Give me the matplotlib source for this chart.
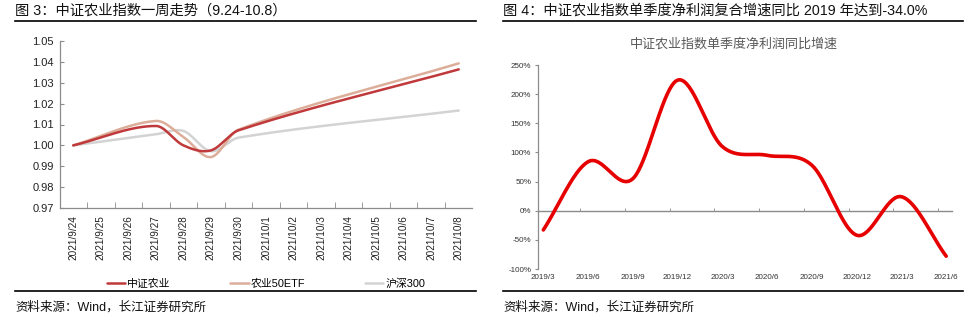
import numpy as np
import matplotlib
matplotlib.use("Agg")
import matplotlib.pyplot as plt
from matplotlib.lines import Line2D
from matplotlib.ticker import FixedLocator, FuncFormatter

plt.rcParams['font.family'] = ['Liberation Sans', 'Noto Sans CJK SC', 'DejaVu Sans']

# ---- data: 图3 one-week trend (calendar-day axis, trading days only) ----
day_labels = ['2021/9/24', '2021/9/25', '2021/9/26', '2021/9/27', '2021/9/28',
              '2021/9/29', '2021/9/30', '2021/10/1', '2021/10/2', '2021/10/3',
              '2021/10/4', '2021/10/5', '2021/10/6', '2021/10/7', '2021/10/8']
trade_days = ['2021/9/24', '2021/9/27', '2021/9/28', '2021/9/29', '2021/9/30', '2021/10/8']
csi_agri = [1.0000, 1.0093, 1.0000, 0.9976, 1.0072, 1.0364]
agri_etf = [1.0000, 1.0117, 1.0040, 0.9944, 1.0075, 1.0393]
hs300 = [1.0000, 1.0053, 1.0069, 0.9972, 1.0037, 1.0167]

# ---- data: 图4 quarterly net profit yoy ----
quarters = ['2019/3', '2019/6', '2019/9', '2019/12', '2020/3', '2020/6',
            '2020/9', '2020/12', '2021/3', '2021/6']
profit_yoy = [-33, 84, 55, 224, 110, 95, 78, -42, 24, -78]


def smooth(x, y, n=40):
    # smoothed line through the points (cubic Hermite, Catmull-Rom tangents)
    x = np.asarray(x, float)
    y = np.asarray(y, float)
    m = np.empty_like(y)
    m[1:-1] = (y[2:] - y[:-2]) / (x[2:] - x[:-2])
    m[0] = (y[1] - y[0]) / (x[1] - x[0])
    m[-1] = (y[-1] - y[-2]) / (x[-1] - x[-2])
    xs, ys = [], []
    t = np.linspace(0, 1, n)
    for i in range(len(x) - 1):
        h = x[i + 1] - x[i]
        h00 = 2 * t**3 - 3 * t**2 + 1
        h10 = t**3 - 2 * t**2 + t
        h01 = -2 * t**3 + 3 * t**2
        h11 = t**3 - t**2
        seg = h00 * y[i] + h10 * h * m[i] + h01 * y[i + 1] + h11 * h * m[i + 1]
        xs.append(x[i] + t * h if i == 0 else (x[i] + t * h)[1:])
        ys.append(seg if i == 0 else seg[1:])
    return np.concatenate(xs), np.concatenate(ys)


W, H = 968, 325
fig = plt.figure(figsize=(W / 100, H / 100), dpi=100)

def fx(px):
    return px / W

def fy(py):
    return 1 - py / H

axis_gray = '#8c8c8c'

# ---------- left panel ----------
fig.text(fx(15), fy(11), '图 3：中证农业指数一周走势（9.24-10.8）', fontsize=10.3,
         va='center', ha='left', color='#111111')
fig.add_artist(Line2D([fx(15), fx(476)], [fy(21), fy(21)], color='black', lw=1.2))

ax1 = fig.add_axes([fx(59.5), fy(208), fx(472.5 - 59.5), fy(41) - fy(208)])
xpos = [day_labels.index(d) for d in trade_days]
styles = [(csi_agri, '中证农业', '#c0393b', 1.8, 4),
          (agri_etf, '农业50ETF', '#dcae9a', 1.8, 3),
          (hs300, '沪深300', '#d3d3d3', 1.8, 2)]
handles = []
for vals, name, col, lw, z in styles:
    sx, sy = smooth(xpos, vals)
    h, = ax1.plot(sx, sy, color=col, lw=lw, label=name, solid_capstyle='round', zorder=z)
    handles.append(h)

ax1.set_xlim(-0.5, len(day_labels) - 0.5)
ax1.set_ylim(0.97, 1.05)
ax1.set_yticks(np.arange(0.97, 1.0501, 0.01))
ax1.yaxis.set_major_formatter(FuncFormatter(lambda v, p: f'{v:.2f}'))
ax1.set_xticks(range(len(day_labels)))
ax1.set_xticklabels(day_labels, rotation=90, fontsize=7.2, color='#222222')
ax1.xaxis.set_minor_locator(FixedLocator(np.arange(0.5, len(day_labels) - 0.5, 1)))
ax1.tick_params(axis='x', which='major', length=0, pad=5)
ax1.tick_params(axis='x', which='minor', length=4, direction='in', color=axis_gray)
ax1.tick_params(axis='y', length=3, direction='in', color=axis_gray, labelsize=8,
                labelcolor='#222222', pad=4)
for s in ['top', 'right']:
    ax1.spines[s].set_visible(False)
for s in ['left', 'bottom']:
    ax1.spines[s].set_color(axis_gray)
    ax1.spines[s].set_linewidth(0.9)

ax1.legend(handles=handles, loc='center', bbox_to_anchor=(0.5, -0.455), ncol=3,
           frameon=False, fontsize=7.8, handlelength=1.7, handletextpad=0.2,
           columnspacing=5.5)

fig.add_artist(Line2D([fx(15), fx(476)], [fy(291), fy(291)], color='black', lw=1.2))
fig.text(fx(15), fy(307), '资料来源：Wind，长江证券研究所', fontsize=9, va='center',
         ha='left', color='#111111')

# ---------- right panel ----------
fig.text(fx(503), fy(11), '图 4：中证农业指数单季度净利润复合增速同比 2019 年达到-34.0%',
         fontsize=10.3, va='center', ha='left', color='#111111')
fig.add_artist(Line2D([fx(503), fx(963)], [fy(21), fy(21)], color='black', lw=1.2))
fig.text(fx(734), fy(44), '中证农业指数单季度净利润同比增速', fontsize=9.4,
         va='center', ha='center', color='#595959')

ax2 = fig.add_axes([fx(537.5), fy(269), fx(952 - 537.5), fy(65) - fy(269)])
qx = np.arange(len(quarters))
sx, sy = smooth(qx, profit_yoy)
ax2.plot(sx, sy, color='#e60000', lw=2.6, solid_capstyle='round', zorder=3)
ax2.set_xlim(-0.13, len(quarters) - 1 + 0.13)
ax2.set_ylim(-100, 250)
ax2.set_yticks(np.arange(-100, 251, 50))
ax2.yaxis.set_major_formatter(FuncFormatter(lambda v, p: f'{v:.0f}%'))
ax2.tick_params(axis='y', length=2.5, direction='out', color=axis_gray, labelsize=5.8,
                labelcolor='#333333', pad=2)
ax2.spines['bottom'].set_position(('data', 0))
ax2.spines['bottom'].set_color(axis_gray)
ax2.spines['bottom'].set_linewidth(1.0)
ax2.spines['left'].set_color(axis_gray)
ax2.spines['left'].set_linewidth(0.9)
for s in ['top', 'right']:
    ax2.spines[s].set_visible(False)
ax2.set_xticks([])
ax2.xaxis.set_minor_locator(FixedLocator(qx[1:] - 0.18))
ax2.tick_params(axis='x', which='minor', length=2.5, direction='in', color=axis_gray)
sec = ax2.secondary_xaxis(-0.02)
sec.set_xticks(qx)
sec.set_xticklabels(quarters, fontsize=5.8, color='#333333')
sec.tick_params(length=0, pad=1)
sec.spines['bottom'].set_visible(False)

fig.add_artist(Line2D([fx(503), fx(963)], [fy(291), fy(291)], color='black', lw=1.2))
fig.text(fx(503), fy(307), '资料来源：Wind，长江证券研究所', fontsize=9, va='center',
         ha='left', color='#111111')

fig.savefig('out.png', dpi=100)
